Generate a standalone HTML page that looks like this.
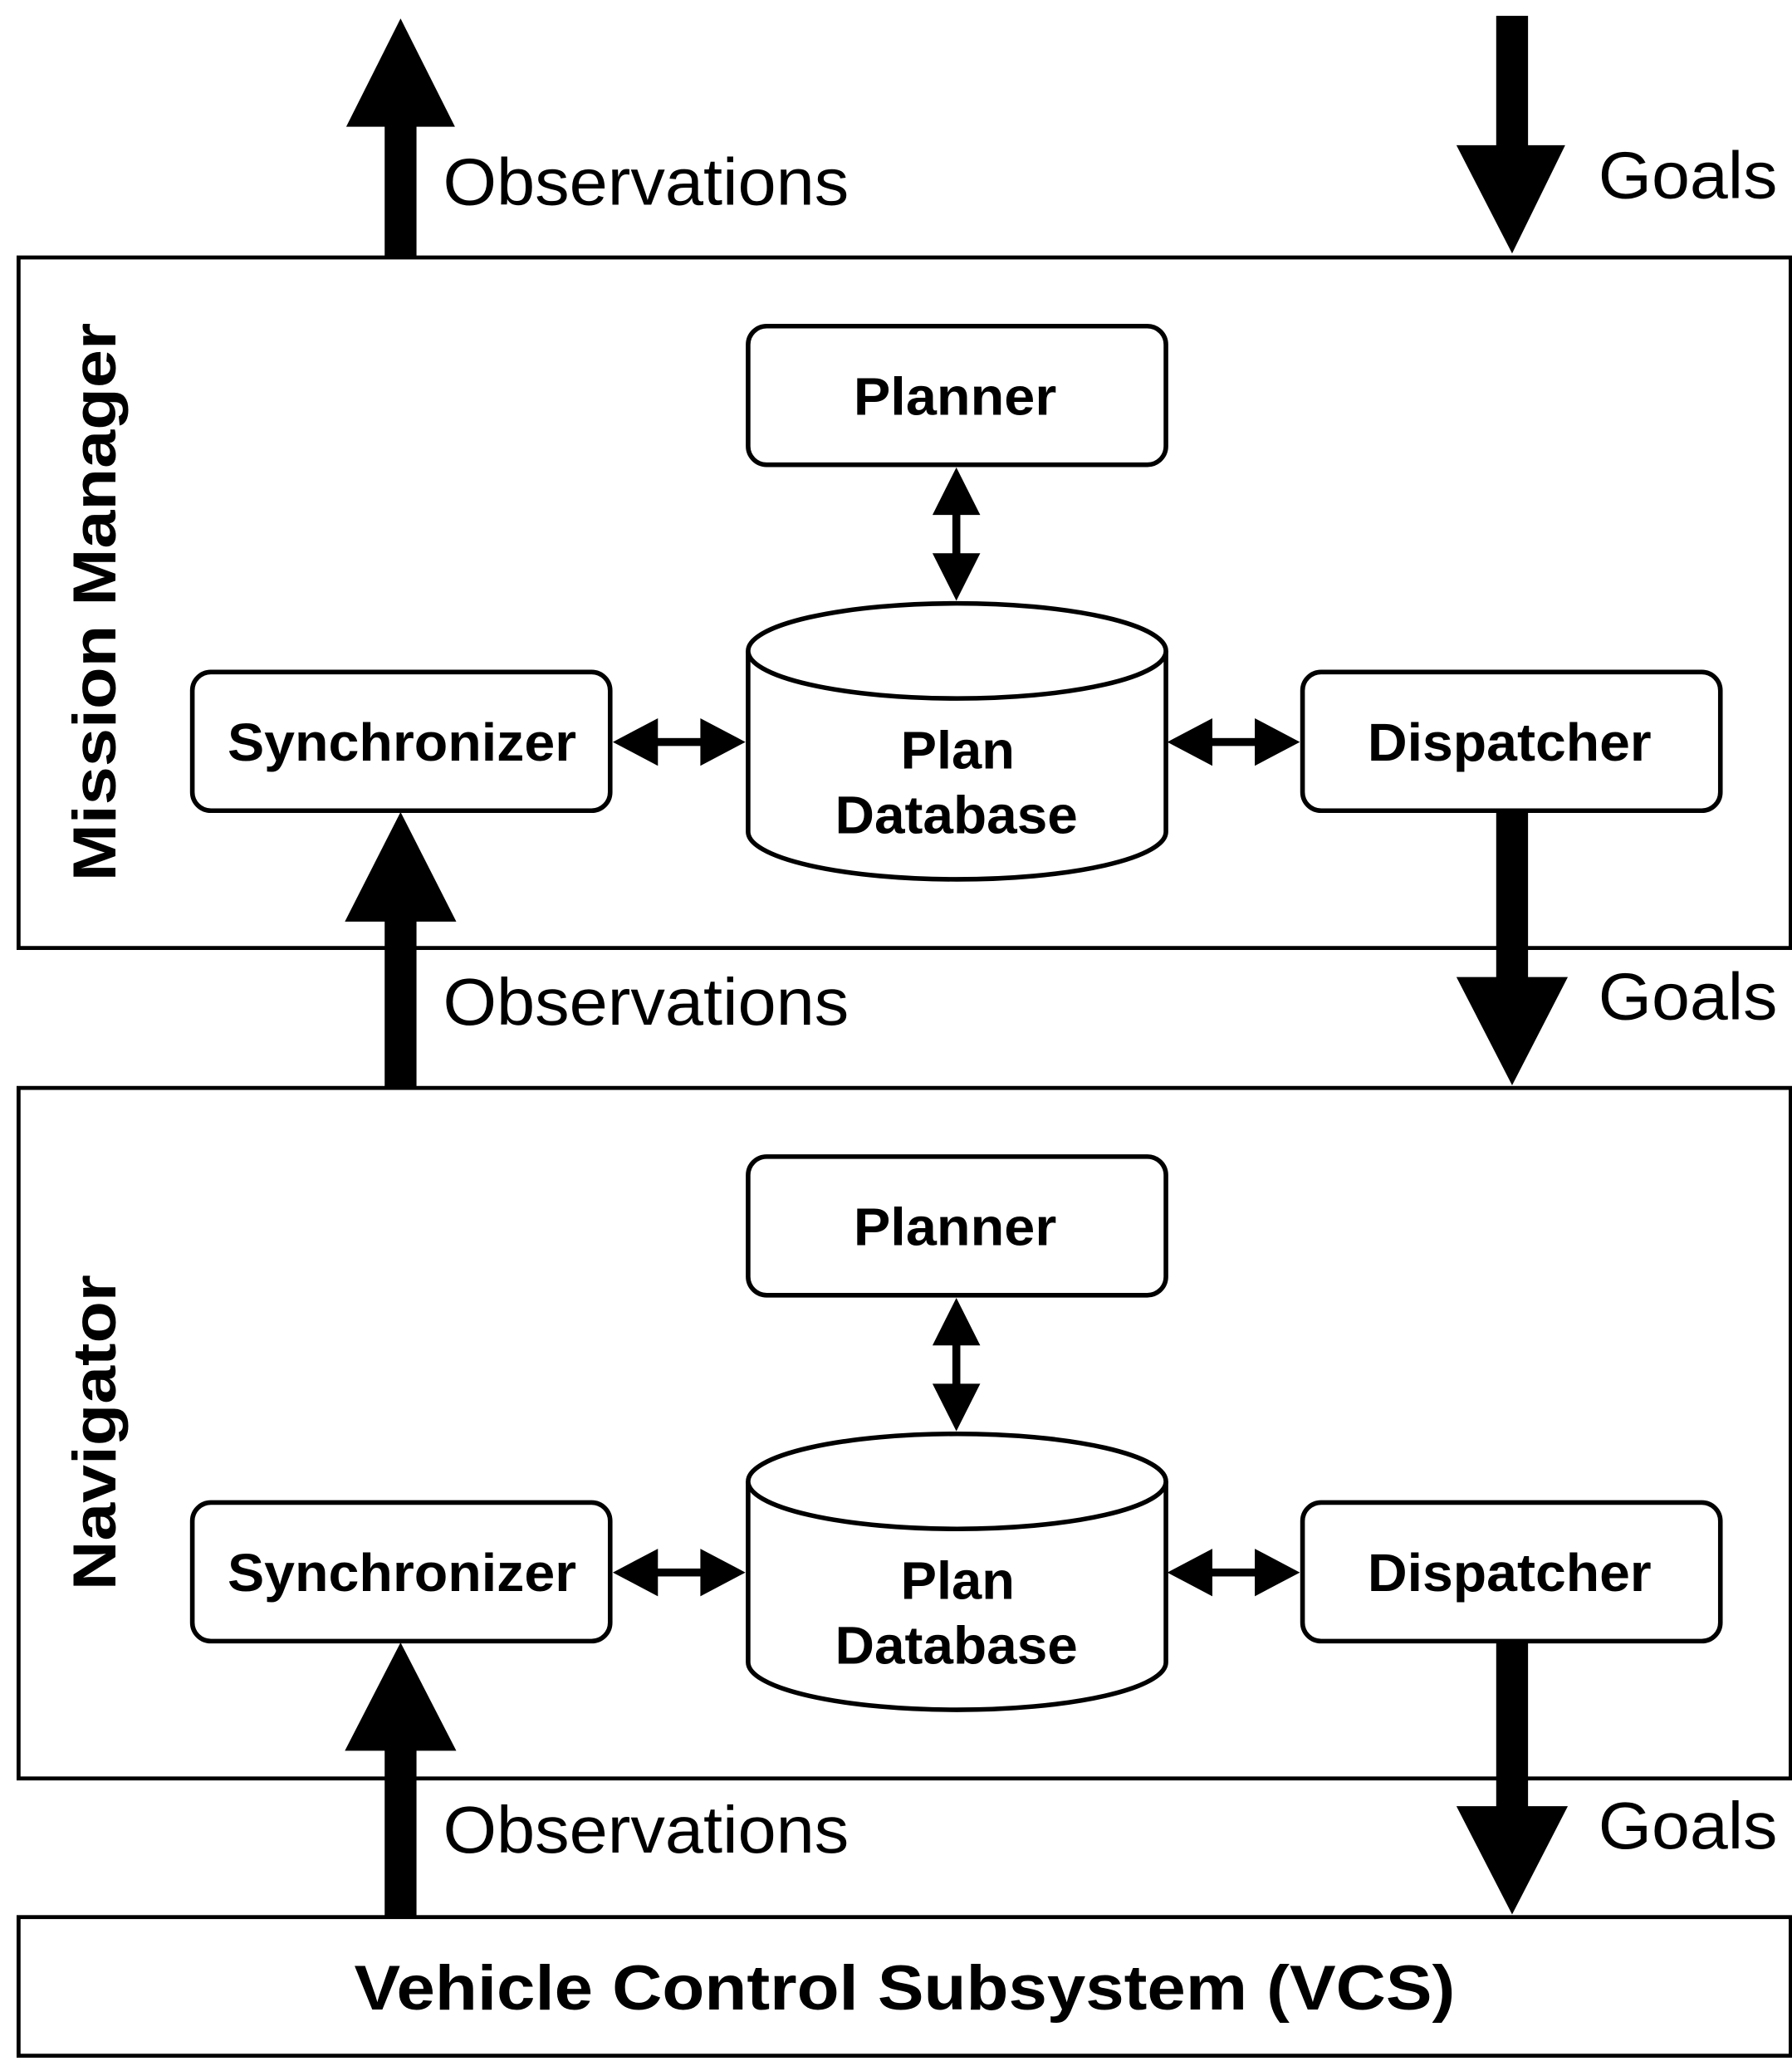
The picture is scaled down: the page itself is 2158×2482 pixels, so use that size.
<!DOCTYPE html>
<html><head><meta charset="utf-8"><style>html,body{margin:0;padding:0;background:#fff}svg{display:block}</style></head>
<body>
<svg width="2158" height="2482" viewBox="0 0 1351 1561" preserveAspectRatio="none" xmlns="http://www.w3.org/2000/svg" font-family="Liberation Sans, sans-serif">
<defs>
<g id="layer">
  <rect x="14" y="195" width="1336" height="523" fill="#fff" stroke="#000" stroke-width="3"/>
  <rect x="564" y="247" width="315" height="105" rx="14" fill="#fff" stroke="#000" stroke-width="3.5"/>
  <text x="720" y="314" font-size="40" font-weight="bold" text-anchor="middle" textLength="153" lengthAdjust="spacingAndGlyphs">Planner</text>
  <rect x="145" y="509" width="315" height="105" rx="14" fill="#fff" stroke="#000" stroke-width="3.5"/>
  <text x="303" y="576" font-size="40" font-weight="bold" text-anchor="middle" textLength="263" lengthAdjust="spacingAndGlyphs">Synchronizer</text>
  <rect x="982" y="509" width="315" height="105" rx="14" fill="#fff" stroke="#000" stroke-width="3.5"/>
  <text x="1138" y="576" font-size="40" font-weight="bold" text-anchor="middle" textLength="214" lengthAdjust="spacingAndGlyphs">Dispatcher</text>
  <path d="M564 493 L564 630 A157.5 36 0 0 0 879 630 L879 493" fill="#fff" stroke="#000" stroke-width="3.5"/>
  <ellipse cx="721.5" cy="493" rx="157.5" ry="36" fill="#fff" stroke="#000" stroke-width="3.5"/>
  <text x="722" y="582" font-size="40" font-weight="bold" text-anchor="middle" textLength="86" lengthAdjust="spacingAndGlyphs">Plan</text>
  <text x="721" y="631" font-size="40" font-weight="bold" text-anchor="middle" textLength="183" lengthAdjust="spacingAndGlyphs">Database</text>
  <rect x="718" y="380" width="6" height="50" fill="#000"/>
  <polygon points="721,354 703,390 739,390" fill="#000"/>
  <polygon points="721,455 703,419 739,419" fill="#000"/>
  <rect x="490" y="559" width="45" height="6" fill="#000"/>
  <polygon points="462,562 496,544 496,580" fill="#000"/>
  <polygon points="562,562 528,544 528,580" fill="#000"/>
  <rect x="908" y="559" width="45" height="6" fill="#000"/>
  <polygon points="880,562 914,544 914,580" fill="#000"/>
  <polygon points="980,562 946,544 946,580" fill="#000"/>
</g>
</defs>
<use href="#layer"/>
<use href="#layer" transform="translate(0,629)"/>
<text transform="translate(87,456) rotate(-90)" font-size="46" font-weight="bold" text-anchor="middle" textLength="423" lengthAdjust="spacingAndGlyphs">Mission Manager</text>
<text transform="translate(87,1085) rotate(-90)" font-size="46" font-weight="bold" text-anchor="middle" textLength="239" lengthAdjust="spacingAndGlyphs">Navigator</text>
<rect x="14" y="1452" width="1336" height="105" fill="#fff" stroke="#000" stroke-width="3"/>
<text x="682" y="1522" font-size="48" font-weight="bold" text-anchor="middle" textLength="830" lengthAdjust="spacingAndGlyphs">Vehicle Control Subsystem (VCS)</text>

<rect x="290" y="93" width="24" height="102" fill="#000"/>
<polygon points="302,14 261,96 343,96" fill="#000"/>
<rect x="1128" y="12" width="24" height="100" fill="#000"/>
<polygon points="1140,192 1098,110 1180,110" fill="#000"/>
<rect x="290" y="696" width="24" height="128" fill="#000"/>
<polygon points="302,615 260,698 344,698" fill="#000"/>
<rect x="1128" y="615" width="24" height="127" fill="#000"/>
<polygon points="1140,822 1098,740 1182,740" fill="#000"/>
<rect x="290" y="1324" width="24" height="128" fill="#000"/>
<polygon points="302,1244 260,1326 344,1326" fill="#000"/>
<rect x="1128" y="1244" width="24" height="126" fill="#000"/>
<polygon points="1140,1450 1098,1368 1182,1368" fill="#000"/>

<g font-size="50">
<text x="334" y="155" textLength="306" lengthAdjust="spacingAndGlyphs">Observations</text>
<text x="1205" y="150" textLength="135" lengthAdjust="spacingAndGlyphs">Goals</text>
<text x="334" y="776" textLength="306" lengthAdjust="spacingAndGlyphs">Observations</text>
<text x="1205" y="772" textLength="135" lengthAdjust="spacingAndGlyphs">Goals</text>
<text x="334" y="1403" textLength="306" lengthAdjust="spacingAndGlyphs">Observations</text>
<text x="1205" y="1400" textLength="135" lengthAdjust="spacingAndGlyphs">Goals</text>
</g>
</svg>
</body></html>
